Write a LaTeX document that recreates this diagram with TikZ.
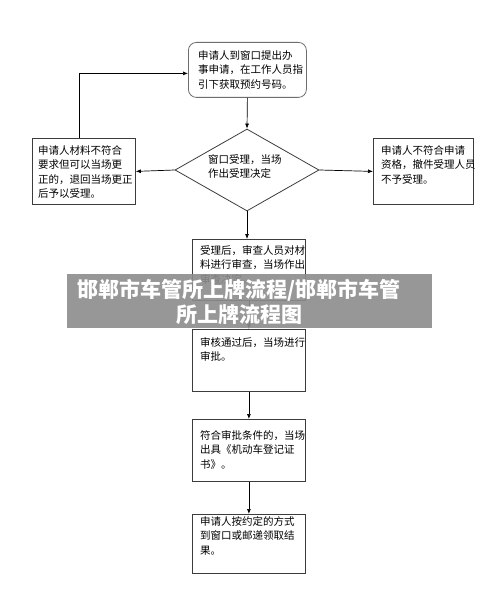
\documentclass[tikz,border=0pt]{standalone}
\usepackage{fontspec}
\setmainfont{Noto Sans CJK SC}
\usetikzlibrary{shapes.geometric,arrows.meta}
\definecolor{boxline}{RGB}{60,60,60}
\definecolor{topline}{RGB}{110,110,110}
\definecolor{banner}{RGB}{140,140,140}
\begin{document}
\begin{tikzpicture}[x=1pt,y=-1pt,
  box/.style={draw=boxline, line width=0.8pt, inner sep=0pt, anchor=north west},
  txt/.style={inner sep=0pt, anchor=north west, align=left, font=\fontsize{10.5}{14.5}\selectfont},
  arr/.style={draw=black, line width=0.7pt, -{Latex[length=5pt,width=4pt]}}]
\useasboundingbox (0,0) rectangle (500,612);
\fill[white] (0,0) rectangle (500,612);
% boxes
\node (b1) [box, draw=topline, rounded corners=8pt, minimum width=118pt, minimum height=55pt] at (188,42) {};
\node (bl) [box, minimum width=103pt, minimum height=66pt] at (32,138) {};
\node (br) [box, minimum width=100pt, minimum height=66pt] at (373,138) {};
\node (d) [draw=boxline, line width=0.8pt, shape=diamond, inner sep=0pt, minimum width=144pt, minimum height=82pt] at (247,170) {};
\node (b3) [box, minimum width=113pt, minimum height=61pt] at (192,239) {};
\node (b4) [box, minimum width=113pt, minimum height=62pt] at (192,329) {};
\node (b5) [box, minimum width=113pt, minimum height=62pt] at (192,419) {};
\node (b6) [box, minimum width=113pt, minimum height=59pt] at (192,514) {};
% texts
\node (t1) [txt] at (198,50) {申请人到窗口提出办\\事申请，在工作人员指\\引下获取预约号码。};
\node (tl) [txt] at (38,145) {申请人材料不符合\\要求但可以当场更\\正的，退回当场更正\\后予以受理。};
\node (tr) [txt] at (381,145) {申请人不符合申请\\资格，撤件受理人员\\不予受理。};
\node (td) [txt] at (208,154) {窗口受理，当场\\作出受理决定};
\node (t3) [txt] at (200,245) {受理后，审查人员对材\\料进行审查，当场作出\\审查决定。};
\node (t4) [txt] at (200,337) {审核通过后，当场进行\\审批。};
\node (t5) [txt] at (200,430) {符合审批条件的，当场\\出具《机动车登记证\\书》。};
\node (t6) [txt] at (200,516) {申请人按约定的方式\\到窗口或邮递领取结\\果。};
% connectors
\draw[arr] (b1.south) -- (d.north);
\draw[arr] (d.west) -- (bl.east);
\draw[arr] (d.east) -- (br.west);
\draw[arr] ([xshift=-4.5pt]bl.north) |- ([yshift=-3.5pt]b1.west);
\draw[arr] (d.south) -- (d.south |- b3.north);
\draw[arr] (b3.south) -- (b4.north);
\draw[arr] (b4.south) -- (b5.north);
\draw[arr] (b5.south) -- (b6.north);
% banner
\node (ban) [fill=banner, fill opacity=0.9, inner sep=0pt, minimum width=365pt, minimum height=54pt, anchor=north west] at (67,274) {};
\node (bant) [inner sep=0pt, align=center, text=white, font=\fontsize{21}{25}\selectfont\bfseries] at (239,302) {邯郸市车管所上牌流程/邯郸市车管\\所上牌流程图};
\end{tikzpicture}
\end{document}
